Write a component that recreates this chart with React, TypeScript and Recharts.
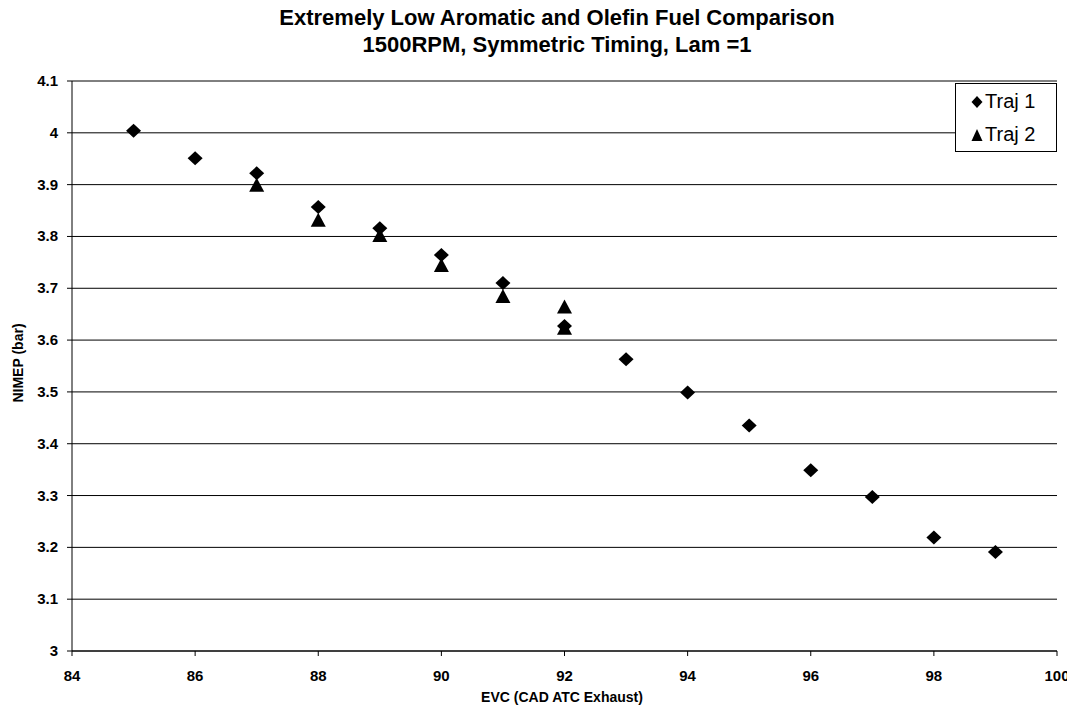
import React from "react";
import {
  ScatterChart,
  Scatter,
  XAxis,
  YAxis,
  CartesianGrid,
  Label,
} from "recharts";

// EVC timing (CAD ATC exhaust) vs NIMEP (bar)
const traj1Evc = [85, 86, 87, 88, 89, 90, 91, 92, 93, 94, 95, 96, 97, 98, 99];
const traj1Nimep = [
  4.004, 3.951, 3.922, 3.857, 3.816, 3.764, 3.71, 3.627, 3.563, 3.499, 3.435,
  3.349, 3.297, 3.219, 3.191,
];

const traj2Evc = [87, 88, 89, 90, 91, 92, 92];
const traj2Nimep = [3.9, 3.832, 3.803, 3.745, 3.685, 3.665, 3.624];

const xTicks = [84, 86, 88, 90, 92, 94, 96, 98, 100];
const yTicks = [3, 3.1, 3.2, 3.3, 3.4, 3.5, 3.6, 3.7, 3.8, 3.9, 4, 4.1];

const traj1 = traj1Evc.map((x, i) => ({ x, y: traj1Nimep[i] }));
const traj2 = traj2Evc.map((x, i) => ({ x, y: traj2Nimep[i] }));

const FONT = "'Liberation Sans', Arial, sans-serif";

function Diamond(props: any) {
  const { cx, cy, w = 7.5, h = 7 } = props;
  if (cx == null || cy == null) return null;
  return (
    <polygon
      points={`${cx},${cy - h} ${cx + w},${cy} ${cx},${cy + h} ${cx - w},${cy}`}
      fill="#000"
    />
  );
}

function Triangle(props: any) {
  const { cx, cy, w = 7.5, h = 7 } = props;
  if (cx == null || cy == null) return null;
  return (
    <polygon
      points={`${cx},${cy - h} ${cx + w},${cy + h} ${cx - w},${cy + h}`}
      fill="#000"
    />
  );
}

function XTick(props: any) {
  const { x, y, payload } = props;
  return (
    <text
      x={x}
      y={y + 23}
      textAnchor="middle"
      fontSize={15}
      fontWeight={700}
      fontFamily={FONT}
      fill="#000"
    >
      {payload.value}
    </text>
  );
}

function YTick(props: any) {
  const { x, y, payload } = props;
  return (
    <text
      x={x - 7}
      y={y + 5}
      textAnchor="end"
      fontSize={15}
      fontWeight={700}
      fontFamily={FONT}
      fill="#000"
    >
      {payload.value}
    </text>
  );
}

function YTitle(props: any) {
  const vb = props.viewBox;
  const cy = vb.y + vb.height / 2 - 3;
  return (
    <text
      x={15}
      y={cy}
      transform={`rotate(-90, 15, ${cy})`}
      textAnchor="middle"
      fontSize={14}
      fontWeight={700}
      fontFamily={FONT}
      fill="#000"
    >
      NIMEP (bar)
    </text>
  );
}

function XTitle() {
  return (
    <text
      x={554}
      y={694}
      textAnchor="middle"
      fontSize={14}
      fontWeight={700}
      fontFamily={FONT}
      fill="#000"
    >
      EVC (CAD ATC Exhaust)
    </text>
  );
}

function LegendBox() {
  const row: React.CSSProperties = {
    display: "flex",
    alignItems: "center",
    height: 33,
    fontSize: 20,
    fontFamily: FONT,
    color: "#000",
  };
  return (
    <div
      style={{
        position: "absolute",
        top: 75,
        left: 947,
        border: "1px solid #000",
        background: "#fff",
        width: 102,
        height: 69,
        padding: "1px 0 1px 15px",
        boxSizing: "border-box",
      }}
    >
      <div style={row}>
        <svg width={12} height={14}>
          <Diamond cx={6} cy={7} w={5.5} h={6} />
        </svg>
        <span style={{ marginLeft: 2 }}>Traj 1</span>
      </div>
      <div style={row}>
        <svg width={12} height={14}>
          <Triangle cx={6} cy={7} w={5.5} h={6} />
        </svg>
        <span style={{ marginLeft: 2 }}>Traj 2</span>
      </div>
    </div>
  );
}

export default function App() {
  return (
    <div style={{ position: "relative", width: 1067, height: 701, background: "#fff" }}>
      <div
        style={{
          position: "absolute",
          top: -4,
          left: 0,
          width: 1098,
          textAlign: "center",
          fontFamily: FONT,
          fontWeight: 700,
          fontSize: 22,
          lineHeight: "27px",
          color: "#000",
        }}
      >
        <div>Extremely Low Aromatic and Olefin Fuel Comparison</div>
        <div>1500RPM, Symmetric Timing, Lam =1</div>
      </div>
      <ScatterChart
        width={1067}
        height={701}
        margin={{ top: 73, right: 18, bottom: 0, left: 0 }}
      >
        <CartesianGrid
          horizontal
          vertical={false}
          stroke="#000"
          strokeWidth={1}
        />
        <XAxis
          type="number"
          dataKey="x"
          domain={[84, 100]}
          ticks={xTicks}
          stroke="#000"
          tickSize={5}
          tick={<XTick />}
          height={58}
          interval={0}
        >
          <Label content={<XTitle />} />
        </XAxis>
        <YAxis
          type="number"
          dataKey="y"
          domain={[3, 4.1]}
          ticks={yTicks}
          stroke="#000"
          tickSize={5}
          tick={<YTick />}
          width={64}
          interval={0}
        >
          <Label content={<YTitle />} />
        </YAxis>
        {/* right frame line */}
        <YAxis
          yAxisId="right"
          orientation="right"
          type="number"
          domain={[3, 4.1]}
          stroke="#000"
          tick={false}
          tickLine={false}
          width={0}
        />
        <Scatter
          name="Traj 1"
          data={traj1}
          fill="#000"
          shape={<Diamond />}
          isAnimationActive={false}
        />
        <Scatter
          name="Traj 2"
          data={traj2}
          fill="#000"
          shape={<Triangle />}
          isAnimationActive={false}
        />
      </ScatterChart>
      <LegendBox />
    </div>
  );
}
